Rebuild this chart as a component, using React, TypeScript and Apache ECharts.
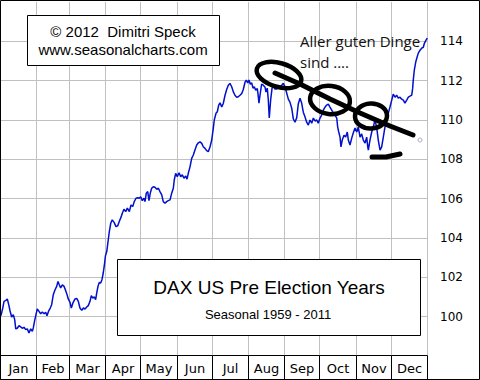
import React, { useEffect, useRef } from 'react';
import * as echarts from 'echarts';

const monthNames = ['Jan', 'Feb', 'Mar', 'Apr', 'May', 'Jun', 'Jul', 'Aug', 'Sep', 'Oct', 'Nov', 'Dec'];
const monthStartDays = [0, 31, 59, 90, 120, 151, 181, 212, 243, 273, 304, 334, 365];
const yTickLabels = [100, 102, 104, 106, 108, 110, 112, 114];

// [day of year, seasonal index]
const seasonal: [number, number][] = [
  [0,100.05],[1.5,100.44],[2.6,100.78],[4.3,100.83],[5.4,100.90],[6.6,100.61],[7.7,100.30],[9.1,99.98],[10.5,100.10],[11.7,99.85],
  [12.6,99.38],[13.9,99.41],[15.4,99.54],[16.8,99.48],[18.2,99.41],[19.7,99.46],[21.1,99.34],[22.5,99.38],[23.9,99.17],[25.4,99.38],
  [26.8,99.25],[27.6,99.43],[28.8,99.81],[29.9,100.10],[31.0,100.39],[32.5,100.27],[33.9,100.15],[35.3,100.24],[36.8,100.15],[38.2,100.22],
  [39.3,100.05],[40.8,100.30],[42.1,100.44],[43.3,100.61],[44.7,101.12],[46.2,101.37],[47.6,101.54],[48.7,101.79],[49.8,101.62],[51.0,101.46],
  [52.4,101.62],[53.9,101.54],[55.0,101.37],[56.2,101.17],[57.5,100.90],[59.0,100.73],[60.1,100.44],[61.5,100.70],[63.3,100.90],[64.7,100.93],
  [66.1,100.78],[67.5,100.44],[69.0,100.32],[70.4,100.44],[71.8,100.39],[73.3,100.49],[74.6,100.56],[76.1,100.78],[77.2,101.07],[78.4,100.95],
  [79.8,101.00],[80.9,100.86],[81.8,101.20],[82.9,101.54],[84.0,101.74],[85.2,101.71],[86.3,101.88],[87.4,102.22],[88.3,102.59],[89.3,103.10],
  [90.4,103.31],[91.7,103.91],[92.6,104.33],[93.8,104.75],[95.1,104.92],[96.8,104.78],[98.3,104.58],[99.8,104.62],[101.1,104.84],[102.6,105.06],
  [103.7,105.26],[105.1,105.46],[106.6,105.34],[108.0,105.52],[109.7,105.34],[111.1,105.68],[112.6,105.60],[113.9,105.85],[115.4,106.02],[116.9,106.05],
  [118.2,106.02],[119.4,106.10],[120.8,105.90],[122.2,106.02],[123.1,105.85],[124.2,106.28],[125.4,106.36],[126.5,105.90],[127.6,106.28],[128.8,106.53],
  [130.2,106.61],[131.6,106.58],[133.1,106.48],[134.5,106.53],[135.9,106.36],[137.4,106.19],[138.7,105.85],[140.2,105.77],[141.6,105.85],[143.0,105.90],
  [144.5,105.94],[145.9,106.28],[147.3,106.53],[148.1,106.95],[149.3,107.29],[150.7,107.12],[152.2,107.32],[153.6,107.12],[155.0,107.21],[156.4,107.04],
  [157.9,107.15],[159.0,106.99],[160.1,107.29],[161.6,107.63],[163.0,108.05],[164.4,108.22],[165.8,108.47],[167.3,108.73],[168.7,108.84],[170.1,108.89],
  [171.6,108.81],[172.9,108.64],[174.4,108.56],[175.8,108.44],[177.2,108.39],[178.7,108.64],[180.1,108.98],[181.5,109.59],[182.3,110.00],[183.8,110.34],
  [184.9,110.42],[186.1,110.76],[187.2,110.87],[188.7,110.67],[190.0,110.84],[191.5,111.26],[192.9,111.55],[194.3,111.77],[195.7,111.86],[197.2,111.69],
  [198.6,111.43],[200.0,111.26],[201.5,111.15],[202.8,111.18],[204.3,111.26],[205.8,111.35],[207.1,111.55],[208.6,111.92],[209.7,112.03],[210.9,111.89],
  [212.0,112.03],[213.1,111.82],[214.3,111.89],[215.4,111.62],[216.5,111.69],[217.7,111.52],[219.1,111.60],[220.0,111.16],[220.5,110.86],[221.4,111.26],
  [222.8,111.82],[224.2,111.77],[225.7,111.67],[226.5,111.42],[227.6,111.62],[228.5,111.02],[229.3,110.10],[230.5,111.02],[231.7,111.62],[232.8,111.72],
  [234.2,111.57],[235.7,111.57],[237.0,111.77],[238.5,111.69],[239.9,111.77],[241.3,111.87],[242.8,111.67],[244.2,111.37],[245.6,111.06],[247.0,110.91],
  [248.5,110.60],[249.9,110.05],[251.3,109.89],[252.8,110.12],[254.1,110.81],[255.6,111.11],[257.0,110.86],[258.4,110.40],[259.9,110.15],[261.3,109.89],
  [262.7,109.74],[264.1,110.00],[265.6,109.84],[267.0,110.10],[268.4,109.95],[269.9,110.00],[271.2,109.84],[272.7,110.10],[274.1,110.25],[275.5,110.50],
  [277.0,110.66],[278.4,110.76],[279.8,110.81],[281.2,110.66],[282.7,110.50],[284.1,110.35],[285.5,110.25],[287.0,110.10],[287.8,109.64],[288.7,109.39],
  [289.8,109.13],[290.6,108.63],[291.7,108.98],[293.2,109.23],[294.6,109.13],[296.0,109.39],[296.9,108.98],[298.3,108.73],[299.8,109.08],[301.1,109.34],
  [302.6,109.59],[304.1,109.39],[305.4,109.64],[306.9,109.13],[308.3,109.29],[309.7,108.98],[311.2,108.83],[312.6,109.13],[313.5,108.63],[314.0,108.47],
  [315.4,108.98],[316.9,109.39],[318.2,109.64],[319.7,110.00],[321.1,109.64],[322.5,108.98],[324.0,108.47],[325.4,108.63],[326.8,109.13],[328.2,109.64],
  [329.7,110.00],[331.1,110.35],[332.5,110.66],[334.0,111.01],[335.3,111.31],[336.8,111.16],[338.2,111.26],[339.6,111.11],[341.1,111.16],[342.5,111.06],
  [343.9,111.01],[345.3,110.86],[346.8,111.01],[348.2,111.16],[349.6,111.21],[351.1,111.26],[351.9,111.62],[352.4,112.03],[353.3,112.53],[354.5,112.94],
  [355.4,113.14],[356.7,113.40],[358.2,113.55],[359.6,113.65],[361.0,113.70],[361.9,113.90],[363.3,114.06],[364.4,114.16],
];

const copyrightLines = ['\u00A9 2012\u00A0 Dimitri Speck', 'www.seasonalcharts.com'];
const titleText = 'DAX US Pre Election Years';
const subtitleText = 'Seasonal 1959 - 2011';
const noteLines = ['Aller guten Dinge', 'sind ....'];

export default function App() {
  const ref = useRef<HTMLDivElement>(null);
  useEffect(() => {
    const chart = echarts.init(ref.current as HTMLDivElement, null, { renderer: 'svg' });
    const monthData = monthNames.map((_, i) => [monthStartDays[i], monthStartDays[i + 1], 98]);
    const scribble = { fill: 'none', stroke: '#000', lineWidth: 4.5, lineCap: 'round', lineJoin: 'round' };
    chart.setOption({
      animation: false,
      backgroundColor: '#ffffff',
      grid: { left: 1, right: 52, top: 2, bottom: 24 },
      xAxis: {
        type: 'value', min: 0, max: 365,
        axisLine: { show: false }, axisTick: { show: false }, axisLabel: { show: false }, splitLine: { show: false },
      },
      yAxis: {
        type: 'value', position: 'right', min: 98, max: 116, interval: 2,
        axisLine: { show: false }, axisTick: { show: false },
        axisLabel: {
          margin: 12, color: '#000', fontFamily: 'DejaVu Sans', fontSize: 12,
          formatter: (v: number) => (yTickLabels.includes(v) ? String(v) : ''),
        },
        splitLine: { show: true, showMinLine: false, showMaxLine: false, lineStyle: { color: '#c0c0c0', width: 1 } },
      },
      series: [
        {
          type: 'custom', z: 1, clip: false, silent: true,
          data: monthData,
          encode: { x: [0, 1], y: 2 },
          renderItem: (params: any, api: any) => {
            const s = api.value(0);
            const e = api.value(1);
            const top = api.coord([s, 116]);
            const b0 = api.coord([s, 98]);
            const b1 = api.coord([e, 98]);
            const xs = Math.round(b0[0]) - 0.5;
            const xe = Math.round(b1[0]) - 0.5;
            const yb = Math.round(b0[1]) - 0.5;
            return {
              type: 'group',
              children: [
                { type: 'line', shape: { x1: xe, y1: top[1], x2: xe, y2: yb }, style: { stroke: '#c0c0c0', lineWidth: 1 } },
                { type: 'rect', shape: { x: xs, y: yb, width: xe - xs, height: 24 }, style: { fill: '#fff', stroke: '#000', lineWidth: 1 } },
                {
                  type: 'text',
                  style: {
                    text: monthNames[params.dataIndex], x: (xs + xe) / 2, y: yb + 12.5,
                    textAlign: 'center', textVerticalAlign: 'middle', fill: '#000', font: '13px "DejaVu Sans"',
                  },
                },
              ],
            };
          },
        },
        {
          type: 'line', z: 3, data: seasonal, symbol: 'none', showSymbol: false, silent: true,
          lineStyle: { color: '#0010cc', width: 1.5 },
        },
      ],
      graphic: [
        { type: 'rect', z: 50, shape: { x: 27.5, y: 15.5, width: 192, height: 50 }, style: { fill: '#fff', stroke: '#000', lineWidth: 1 } },
        { type: 'text', z: 51, x: 123, y: 31, style: { text: copyrightLines[0], textAlign: 'center', textVerticalAlign: 'middle', fill: '#000', font: '15px "Liberation Sans"' } },
        { type: 'text', z: 51, x: 123, y: 49, style: { text: copyrightLines[1], textAlign: 'center', textVerticalAlign: 'middle', fill: '#000', font: '15px "Liberation Sans"' } },
        { type: 'rect', z: 50, shape: { x: 117.5, y: 259.5, width: 303, height: 76 }, style: { fill: '#fff', stroke: '#000', lineWidth: 1 } },
        { type: 'text', z: 51, x: 269, y: 287, style: { text: titleText, textAlign: 'center', textVerticalAlign: 'middle', fill: '#000', font: '19px "Liberation Sans"' } },
        { type: 'text', z: 51, x: 268, y: 314, style: { text: subtitleText, textAlign: 'center', textVerticalAlign: 'middle', fill: '#000', font: '13px "Liberation Sans"' } },
        { type: 'text', z: 51, x: 300, y: 41, style: { text: noteLines[0], textAlign: 'left', textVerticalAlign: 'middle', fill: '#111', font: '15px "Open Sans"' } },
        { type: 'text', z: 51, x: 300, y: 62, style: { text: noteLines[1], textAlign: 'left', textVerticalAlign: 'middle', fill: '#111', font: '15px "Open Sans"' } },
        { type: 'ellipse', z: 60, x: 279, y: 75, rotation: -0.28, shape: { cx: 0, cy: 0, rx: 23, ry: 12 }, style: scribble },
        { type: 'ellipse', z: 60, x: 330, y: 100, rotation: -0.12, shape: { cx: 0, cy: 0, rx: 20, ry: 14 }, style: scribble },
        { type: 'ellipse', z: 60, x: 371, y: 116, rotation: 0.05, shape: { cx: 0, cy: 0, rx: 16, ry: 12.5 }, style: scribble },
        { type: 'polyline', z: 60, shape: { points: [[275, 73], [300, 84], [330, 99], [360, 113], [390, 126], [413, 135]] }, style: { ...scribble, lineWidth: 5 } },
        { type: 'polyline', z: 60, shape: { points: [[372, 157], [386, 157], [400, 154]] }, style: { ...scribble, lineWidth: 5 } },
        { type: 'circle', z: 60, shape: { cx: 420, cy: 140, r: 2 }, style: { fill: 'none', stroke: '#a8a8c8', lineWidth: 1 } },
        { type: 'rect', z: 100, shape: { x: 0.5, y: 0.5, width: 479, height: 379 }, style: { fill: 'none', stroke: '#000', lineWidth: 1 } },
      ],
    });
    return () => chart.dispose();
  }, []);
  return <div ref={ref} style={{ position: 'fixed', left: 0, top: 0, width: 480, height: 380 }} />;
}
